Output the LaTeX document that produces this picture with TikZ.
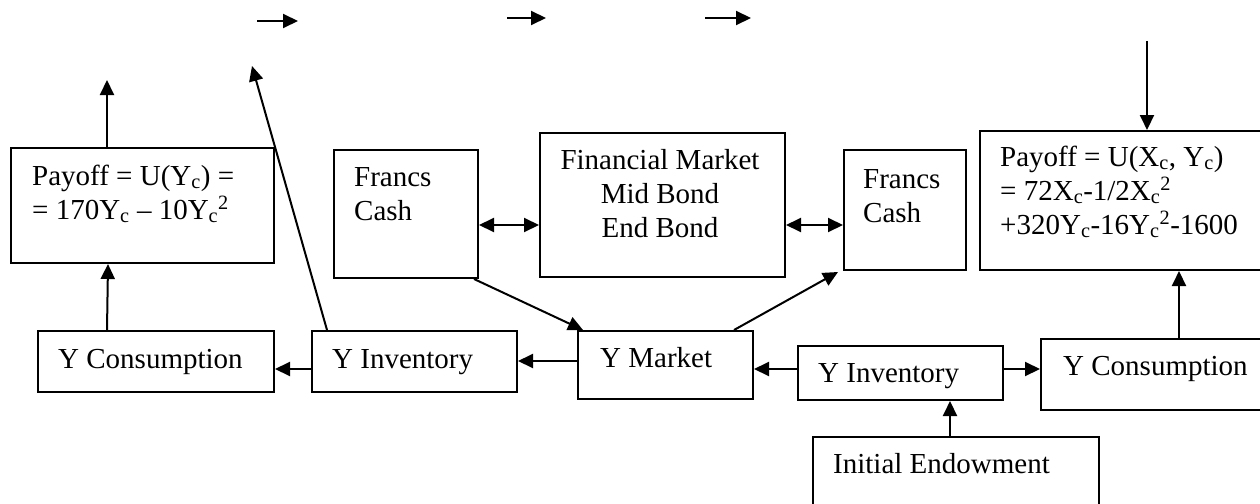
\documentclass[tikz,border=0pt]{standalone}
\usepackage{fontspec}
\setmainfont{Liberation Serif}
\usetikzlibrary{arrows.meta,positioning}

\tikzset{
  box/.style args={#1/#2}{draw, rectangle, line width=2pt, inner sep=0pt, anchor=north west, minimum width=#1pt, minimum height=#2pt},
  txt/.style={inner sep=0pt, anchor=base west, align=left},
  arr/.style={line width=2pt, -{Triangle[length=15pt,width=14pt]}},
  dbl/.style={line width=2pt, {Triangle[length=15pt,width=14pt]}-{Triangle[length=15pt,width=14pt]}}
}

\begin{document}
\begin{tikzpicture}[x=1pt, y=-1pt, every node/.style={font=\fontsize{29}{34}\selectfont}]
        \useasboundingbox (0,0) rectangle (1260,503);

        % boxes
        \node[box=263/115] (payL) at (10,147) {};
        \node[box=144/128] (fcL) at (333,149) {};
        \node[box=245/144] (fin) at (539,132) {};
        \node[box=122/120] (fcR) at (843,149) {};
        \node[box=290/139] (payR) at (979,130) {};
        \node[box=236/61] (ycL) at (37,330) {};
        \node[box=205/61] (yiL) at (311,330) {};
        \node[box=175/68] (ym) at (577,330) {};
        \node[box=205/54] (yiR) at (797,345) {};
        \node[box=230/71] (ycR) at (1040,338) {};
        \node[box=286/90] (init) at (812,436) {};

        % texts (base = last line)
        \node[txt] (payLt) at (32,219) {Payoff = U(Y\textsubscript{c}) =\\= 170Y\textsubscript{c} \textendash{} 10Y\textsubscript{c}\textsuperscript{2}};
        \node[txt] (fcLt) at (354,220) {Francs\\Cash};
        \node[txt, anchor=base, align=center] (fint) at (660,237) {Financial Market\\Mid Bond\\End Bond};
        \node[txt] (fcRt) at (863,222) {Francs\\Cash};
        \node[txt] (payRt) at (1000,234) {Payoff = U(X\textsubscript{c}, Y\textsubscript{c})\\= 72X\textsubscript{c}-1/2X\textsubscript{c}\textsuperscript{2}\\+320Y\textsubscript{c}-16Y\textsubscript{c}\textsuperscript{2}-1600};
        \node[txt] (ycLt) at (58,368) {Y Consumption};
        \node[txt] (yiLt) at (332,368) {Y Inventory};
        \node[txt] (ymt) at (600,367) {Y Market};
        \node[txt] (yiRt) at (818,382) {Y Inventory};
        \node[txt] (ycRt) at (1063,375) {Y Consumption};
        \node[txt] (initt) at (833,473) {Initial Endowment};

        % free ends
        \coordinate (payLup) at (107,80);
        \coordinate (invUp) at (252,66);
        \coordinate (payRin) at (1147,41);
        \foreach \a/\b/\h [count=\i] in {257/298/21, 507/546/18, 705/751/18} {
          \coordinate (top\i a) at (\a,\h);
          \coordinate (top\i b) at (\b,\h);
          \draw[arr] (top\i a) -- (top\i b);
        }

        % connectors
        \draw[arr] ([xshift=-49pt]ycL.north) -- ([xshift=-34.5pt]payL.south);
        \draw[arr] ([xshift=-35.5pt]payL.north) -- (payLup);
        \draw[arr] ([xshift=-87.5pt]yiL.north) -- (invUp);
        \draw[arr] ([yshift=-7.5pt]yiL.west) -- ([yshift=-7.5pt]ycL.east);
        \draw[arr] ([yshift=4pt]ym.west) -- ([yshift=0.5pt]yiL.east);
        \draw[arr] ([xshift=-5pt]fcL.south east) -- ([xshift=6pt]ym.north west);
        \draw[arr] ([xshift=-20pt]ym.north east) -- ([shift={(-5pt,-1pt)}]fcR.south west);
        \draw[arr] ([yshift=4pt]yiR.west) -- ([yshift=-4pt]ym.east);
        \draw[arr] ([yshift=4pt]yiR.east) -- ([yshift=5.5pt]ycR.west);
        \draw[arr] ([xshift=-6pt]init.north) -- ([xshift=-6pt]init.north |- yiR.south);
        \draw[arr] ([xshift=23pt]ycR.north) -- ([xshift=23pt]ycR.north |- payR.south);
        \draw[arr] (payRin) -- (payRin |- payR.north);
        \draw[dbl] ([yshift=-11pt]fcL.east) -- ([yshift=-11pt]fcL.east -| fin.west);
        \draw[dbl] ([yshift=-20pt]fin.east) -- ([yshift=-20pt]fin.east -| fcR.west);
\end{tikzpicture}
\end{document}
